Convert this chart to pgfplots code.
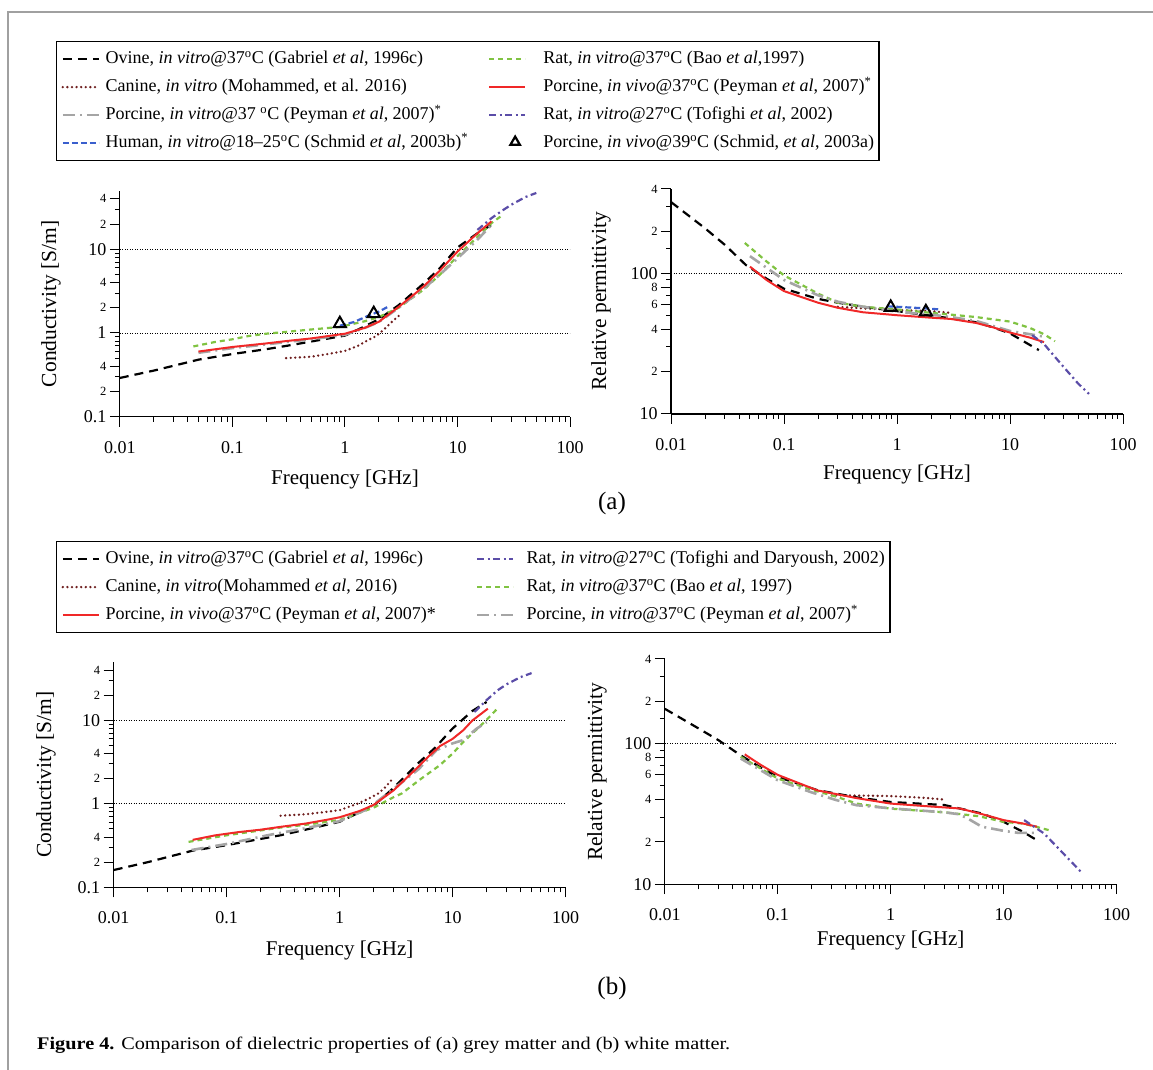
\documentclass[border=0pt]{standalone}
\usepackage{pgfplots}
\pgfplotsset{compat=1.18}
\usepackage{fontspec}
\setmainfont{Liberation Serif}
\definecolor{cRed}{RGB}{240,40,40}
\definecolor{cGreen}{RGB}{128,195,66}
\definecolor{cGrey}{RGB}{165,165,165}
\definecolor{cBlue}{RGB}{58,95,205}
\definecolor{cPurple}{RGB}{91,77,168}
\definecolor{cMaroon}{RGB}{110,30,30}
\definecolor{cFrame}{RGB}{160,160,160}
\newcommand\sm{\fontsize{12.5}{12.5}\selectfont}
\newcommand\dg{\textsuperscript{o}}
\tikzset{
 sOvine/.style={black, line width=2.2pt, dash pattern=on 9pt off 6pt},
 sCanine/.style={cMaroon, line width=2.6pt, line cap=round, dash pattern=on 0pt off 4.6pt},
 sPvitro/.style={cGrey, line width=2.6pt, dash pattern=on 12pt off 5pt on 2pt off 5pt},
 sHuman/.style={cBlue, line width=2.2pt, dash pattern=on 6pt off 3pt},
 sBao/.style={cGreen, line width=2.2pt, dash pattern=on 5pt off 4pt},
 sPvivo/.style={cRed, line width=2pt},
 sTof/.style={cPurple, line width=2.2pt, dash pattern=on 7pt off 3.5pt on 2pt off 3.5pt},
 sTri/.style={black, line width=2pt, mark=triangle, mark size=7pt, mark options={solid}},
 sGrid/.style={black, line width=0.7pt, dash pattern=on 1pt off 1.5pt},
}
\begin{document}
\begin{tikzpicture}
\useasboundingbox (0pt,0pt) rectangle (1153pt,1070pt);
\draw[cFrame, line width=1.6pt] (8pt,0pt) -- (8pt,1058pt) -- (1153pt,1058pt);

% ---------------- (a) conductivity
\begin{axis}[xmode=log, ymode=log, scale only axis,
  axis x line*=bottom, axis y line*=left,
  axis line style={line width=1.2pt},
  tick align=outside, major tick length=10pt, minor tick length=5pt,
  tick style={black, line width=1pt},
  xmin=0.01, xmax=100,
  xtick={0.01,0.1,1,10,100}, xticklabels={0.01,0.1,1,10,100},
  minor xtick={0.02,0.03,0.04,0.05,0.06,0.07,0.08,0.09,0.2,0.3,0.4,0.5,0.6,0.7,0.8,0.9,2,3,4,5,6,7,8,9,20,30,40,50,60,70,80,90},
  ticklabel style={font=\fontsize{18}{18}\selectfont},
  xticklabel style={yshift=-11pt},
  xlabel={Frequency [GHz]},
  xlabel style={font=\fontsize{21}{21}\selectfont, anchor=center, at={(axis description cs:0.5,-0.280)}},
  ylabel style={font=\fontsize{21.5}{21.5}\selectfont, anchor=center, at={(axis description cs:-0.1528,0.5)}},
  ymin=0.1, ymax=50,
  ytick={0.1,0.2,0.4,1,2,4,10,20,40},
  yticklabels={0.1,{\sm 2},{\sm 4},1,{\sm 2},{\sm 4},10,{\sm 2},{\sm 4}},
  minor ytick={0.3,0.5,0.6,0.7,0.8,0.9,3,5,6,7,8,9,30},
  ylabel={Conductivity [S/m]},
  anchor=south west, at={(119.8pt,653.3pt)}, width=450.4pt, height=226pt,
  legend image code/.code={\draw[#1] (0pt,0pt) -- (36pt,0pt);},
  legend cell align=left, legend columns=2,
  legend style={draw=black, line width=1.2pt, font=\fontsize{18}{21}\selectfont,
   inner xsep=5pt, inner ysep=9pt, row sep=11pt,
   nodes={inner sep=0pt, text height=13pt, text depth=4pt},
   /tikz/column 1/.style={column sep=5.5pt},
   /tikz/column 2/.style={column sep=20pt},
   /tikz/column 3/.style={column sep=17pt},
   at={(axis description cs:-0.1419,1.6624)}, anchor=north west}]
\addlegendimage{sOvine}\addlegendentry{Ovine, \textit{in vitro}@37\dg C (Gabriel \textit{et al}, 1996c)}
\addlegendimage{sBao}\addlegendentry{Rat, \textit{in vitro}@37\dg C (Bao \textit{et al},1997)}
\addlegendimage{sCanine}\addlegendentry{Canine, \textit{in vitro} (Mohammed, et al. 2016)}
\addlegendimage{sPvivo}\addlegendentry{Porcine, \textit{in vivo}@37\dg C (Peyman \textit{et al}, 2007)\textsuperscript{*}}
\addlegendimage{sPvitro}\addlegendentry{Porcine, \textit{in vitro}@37 \dg C (Peyman \textit{et al}, 2007)\textsuperscript{*}}
\addlegendimage{sTof}\addlegendentry{Rat, \textit{in vitro}@27\dg C (Tofighi \textit{et al}, 2002)}
\addlegendimage{sHuman}\addlegendentry{Human, \textit{in vitro}@18–25\dg C (Schmid \textit{et al}, 2003b)\textsuperscript{*}}
\addlegendimage{black, legend image code/.code={\draw[black, line width=2.2pt, mark=triangle, mark size=5.5pt] plot coordinates {(26pt,1pt)};}}\addlegendentry{Porcine, \textit{in vivo}@39\dg C (Schmid, \textit{et al}, 2003a)}
\addplot[sGrid, forget plot] coordinates {(0.01,1) (100,1)};
\addplot[sGrid, forget plot] coordinates {(0.01,10) (100,10)};
\addplot[sCanine, forget plot] coordinates {(0.3,0.5) (0.5,0.52) (0.7,0.56) (1,0.61) (1.3,0.7) (1.6,0.82) (1.9,0.92) (2.3,1.15) (2.6,1.35) (3,1.6)};
\addplot[sOvine, forget plot] coordinates {(0.01,0.29) (0.02,0.355) (0.05,0.48) (0.1,0.56) (0.2,0.64) (0.3,0.7) (0.5,0.79) (1,0.93) (1.5,1.2) (2,1.46) (3,2.15) (4,3.0) (5,3.9) (7,6.0) (10,10.5) (15,15.5) (20,19.5)};
\addplot[sBao, forget plot] coordinates {(0.045,0.69) (0.07,0.78) (0.1,0.84) (0.14,0.92) (0.2,0.98) (0.3,1.03) (0.5,1.1) (0.9,1.18) (1.5,1.38) (2,1.55) (3,2.0) (5,3.3) (7,5.0) (10,8.3) (15,14) (20,20.5) (25,25.5)};
\addplot[sPvitro, forget plot] coordinates {(0.05,0.58) (0.1,0.66) (0.2,0.73) (0.3,0.78) (0.5,0.84) (1,0.95) (1.5,1.15) (2,1.35) (3,2.0) (5,3.4) (7,5.0) (10,7.8) (15,13) (20,19.5)};
\addplot[sHuman, forget plot] coordinates {(0.9,1.22) (1.2,1.35) (1.6,1.6) (2.0,1.8) (2.4,2.05)};
\addplot[sPvivo, forget plot] coordinates {(0.05,0.6) (0.1,0.68) (0.2,0.75) (0.3,0.8) (0.5,0.86) (1,0.98) (1.5,1.15) (2,1.36) (3,2.05) (4,2.8) (5,3.6) (7,5.6) (10,9.4) (15,15.5) (20,21.5)};
\addplot[sTof, forget plot] coordinates {(15,17) (20,23.5) (25,29) (30,34) (40,42) (50,47)};
\addplot[sTri, only marks, forget plot] coordinates {(0.9,1.29) (1.8,1.7)};
\end{axis}

% ---------------- (a) permittivity
\begin{axis}[xmode=log, ymode=log, scale only axis,
  axis x line*=bottom, axis y line*=left,
  axis line style={line width=1.2pt},
  tick align=outside, major tick length=10pt, minor tick length=5pt,
  tick style={black, line width=1pt},
  xmin=0.01, xmax=100,
  xtick={0.01,0.1,1,10,100}, xticklabels={0.01,0.1,1,10,100},
  minor xtick={0.02,0.03,0.04,0.05,0.06,0.07,0.08,0.09,0.2,0.3,0.4,0.5,0.6,0.7,0.8,0.9,2,3,4,5,6,7,8,9,20,30,40,50,60,70,80,90},
  ticklabel style={font=\fontsize{18}{18}\selectfont},
  xticklabel style={yshift=-11pt},
  xlabel={Frequency [GHz]},
  xlabel style={font=\fontsize{21}{21}\selectfont, anchor=center, at={(axis description cs:0.5,-0.2667)}},
  ylabel style={font=\fontsize{21.5}{21.5}\selectfont, anchor=center, at={(axis description cs:-0.1549,0.5)}},
  ymin=10, ymax=400,
  ytick={10,20,40,60,80,100,200,400},
  yticklabels={10,{\sm 2},{\sm 4},{\sm 6},{\sm 8},100,{\sm 2},{\sm 4}},
  minor ytick={30,50,70,90,150,300},
  ylabel={Relative permittivity},
  anchor=south west, at={(671pt,656pt)}, width=452pt, height=225pt]
\addplot[sGrid] coordinates {(0.01,100) (100,100)};
\addplot[sCanine] coordinates {(0.3,58) (0.5,56.5) (1,55) (2,54) (3,52.5)};
\addplot[sOvine] coordinates {(0.01,323) (0.02,210) (0.03,160) (0.046,115) (0.07,92) (0.1,78) (0.2,66) (0.3,62) (0.5,58) (1,54) (2,50) (3,48) (5,45) (7,41.5) (10,37.5) (15,31) (18,28.5)};
\addplot[sBao] coordinates {(0.045,165) (0.07,122) (0.1,97) (0.2,72) (0.3,62) (0.5,58) (1,55.5) (2,52.5) (3,51) (5,49) (10,45.5) (15,41) (20,37) (25,33)};
\addplot[sPvitro] coordinates {(0.05,133) (0.07,110) (0.1,90) (0.2,70) (0.3,63) (0.5,58) (1,53.5) (2,51) (3,49) (5,46) (10,39) (15,37) (20,35.5)};
\addplot[sHuman] coordinates {(0.82,58.5) (1.2,57.5) (1.8,56.5) (2.4,55.5)};
\addplot[sPvivo] coordinates {(0.05,112) (0.07,90) (0.1,75) (0.2,62) (0.3,57) (0.5,53) (1,50.5) (2,48.5) (3,47.5) (5,44.5) (7,41.5) (10,38) (15,35) (20,32.5)};
\addplot[sTof] coordinates {(15.7,36.4) (20,31.5) (25,25.5) (30,21.5) (40,16.5) (50,13.9)};
\addplot[sTri, only marks] coordinates {(0.88,57.4) (1.8,53.4)};
\end{axis}

% ---------------- (b) conductivity
\begin{axis}[xmode=log, ymode=log, scale only axis,
  axis x line*=bottom, axis y line*=left,
  axis line style={line width=1.2pt},
  tick align=outside, major tick length=10pt, minor tick length=5pt,
  tick style={black, line width=1pt},
  xmin=0.01, xmax=100,
  xtick={0.01,0.1,1,10,100}, xticklabels={0.01,0.1,1,10,100},
  minor xtick={0.02,0.03,0.04,0.05,0.06,0.07,0.08,0.09,0.2,0.3,0.4,0.5,0.6,0.7,0.8,0.9,2,3,4,5,6,7,8,9,20,30,40,50,60,70,80,90},
  ticklabel style={font=\fontsize{18}{18}\selectfont},
  xticklabel style={yshift=-11pt},
  xlabel={Frequency [GHz]},
  xlabel style={font=\fontsize{21}{21}\selectfont, anchor=center, at={(axis description cs:0.5,-0.2814)}},
  ylabel style={font=\fontsize{21.5}{21.5}\selectfont, anchor=center, at={(axis description cs:-0.1498,0.5)}},
  ymin=0.1, ymax=50,
  ytick={0.1,0.2,0.4,1,2,4,10,20,40},
  yticklabels={0.1,{\sm 2},{\sm 4},1,{\sm 2},{\sm 4},10,{\sm 2},{\sm 4}},
  minor ytick={0.3,0.5,0.6,0.7,0.8,0.9,3,5,6,7,8,9,30},
  ylabel={Conductivity [S/m]},
  anchor=south west, at={(113.7pt,182.7pt)}, width=451.9pt, height=225.3pt,
  legend image code/.code={\draw[#1] (0pt,0pt) -- (36pt,0pt);},
  legend cell align=left, legend columns=2,
  legend style={draw=black, line width=1.2pt, font=\fontsize{18}{21}\selectfont,
   inner xsep=5pt, inner ysep=9pt, row sep=11pt,
   nodes={inner sep=0pt, text height=13pt, text depth=4pt},
   /tikz/column 1/.style={column sep=5.5pt},
   /tikz/column 2/.style={column sep=40pt},
   /tikz/column 3/.style={column sep=12pt},
   at={(axis description cs:-0.1279,1.5371)}, anchor=north west}]
\addlegendimage{sOvine}\addlegendentry{Ovine, \textit{in vitro}@37\dg C (Gabriel \textit{et al}, 1996c)}
\addlegendimage{sTof}\addlegendentry{Rat, \textit{in vitro}@27\dg C (Tofighi and Daryoush, 2002)}
\addlegendimage{sCanine}\addlegendentry{Canine, \textit{in vitro}(Mohammed \textit{et al}, 2016)}
\addlegendimage{sBao}\addlegendentry{Rat, \textit{in vitro}@37\dg C (Bao \textit{et al}, 1997)}
\addlegendimage{sPvivo}\addlegendentry{Porcine, \textit{in vivo}@37\dg C (Peyman \textit{et al}, 2007)*}
\addlegendimage{sPvitro}\addlegendentry{Porcine, \textit{in vitro}@37\dg C (Peyman \textit{et al}, 2007)\textsuperscript{*}}
\addplot[sGrid, forget plot] coordinates {(0.01,1) (100,1)};
\addplot[sGrid, forget plot] coordinates {(0.01,10) (100,10)};
\addplot[sCanine, forget plot] coordinates {(0.3,0.72) (0.5,0.75) (0.7,0.79) (1,0.84) (1.43,1.0) (1.8,1.15) (2.2,1.33) (2.5,1.55) (2.9,1.95)};
\addplot[sOvine, forget plot] coordinates {(0.01,0.161) (0.02,0.2) (0.05,0.275) (0.1,0.32) (0.2,0.38) (0.3,0.42) (0.5,0.49) (1,0.61) (2,0.95) (3,1.55) (5,3.1) (7,4.7) (10,8.0) (15,13) (20,16.6)};
\addplot[sBao, forget plot] coordinates {(0.046,0.35) (0.1,0.42) (0.2,0.48) (0.3,0.52) (0.5,0.56) (1,0.64) (2,0.9) (3,1.2) (3.55,1.33) (5,1.9) (7.7,2.9) (10,4.0) (12.4,5.5) (15,7.0) (19.8,10) (25.6,14.4)};
\addplot[sPvitro, forget plot] coordinates {(0.049,0.28) (0.1,0.33) (0.23,0.42) (0.5,0.51) (1,0.62) (1.75,0.86) (2.5,1.25) (3.55,1.8) (5,2.6) (7.2,4.4) (10,5.3) (12.4,5.8) (16.2,7.9) (20,9.5)};
\addplot[sPvivo, forget plot] coordinates {(0.05,0.37) (0.08,0.42) (0.13,0.46) (0.2,0.49) (0.3,0.53) (0.5,0.58) (0.8,0.65) (1,0.69) (1.5,0.82) (2,0.97) (3,1.45) (4,2.1) (5,2.8) (6,3.6) (7.7,4.9) (10,6.0) (12.4,7.6) (15,10) (20.5,13.8)};
\addplot[sTof, forget plot] coordinates {(15.6,12.6) (20,17.5) (25,22.9) (30,27) (40,33) (50,36.8)};
\end{axis}

% ---------------- (b) permittivity
\begin{axis}[xmode=log, ymode=log, scale only axis,
  axis x line*=bottom, axis y line*=left,
  axis line style={line width=1.2pt},
  tick align=outside, major tick length=10pt, minor tick length=5pt,
  tick style={black, line width=1pt},
  xmin=0.01, xmax=100,
  xtick={0.01,0.1,1,10,100}, xticklabels={0.01,0.1,1,10,100},
  minor xtick={0.02,0.03,0.04,0.05,0.06,0.07,0.08,0.09,0.2,0.3,0.4,0.5,0.6,0.7,0.8,0.9,2,3,4,5,6,7,8,9,20,30,40,50,60,70,80,90},
  ticklabel style={font=\fontsize{18}{18}\selectfont},
  xticklabel style={yshift=-11pt},
  xlabel={Frequency [GHz]},
  xlabel style={font=\fontsize{21}{21}\selectfont, anchor=center, at={(axis description cs:0.5,-0.2472)}},
  ylabel style={font=\fontsize{21.5}{21.5}\selectfont, anchor=center, at={(axis description cs:-0.150,0.5)}},
  ymin=10, ymax=400,
  ytick={10,20,40,60,80,100,200,400},
  yticklabels={10,{\sm 2},{\sm 4},{\sm 6},{\sm 8},100,{\sm 2},{\sm 4}},
  minor ytick={30,50,70,90,150,300},
  ylabel={Relative permittivity},
  anchor=south west, at={(664.8pt,185.7pt)}, width=451.7pt, height=225.3pt]
\addplot[sGrid] coordinates {(0.01,100) (100,100)};
\addplot[sCanine] coordinates {(0.3,43) (0.5,42.8) (1,42.4) (2,41.2) (3,40)};
\addplot[sOvine] coordinates {(0.01,177) (0.02,128) (0.03,105.6) (0.047,82.6) (0.07,68) (0.1,58) (0.225,46.7) (0.5,41.5) (1,38.5) (3,36.6) (6.4,31.9) (10,27.8) (15,23.5) (19.7,20.6)};
\addplot[sBao] coordinates {(0.047,80.7) (0.1,56.5) (0.2,47) (0.33,42) (0.5,37.5) (1,34.5) (3,32.5) (6,30.5) (10,27.8) (15,27) (20,25.5) (26.5,24)};
\addplot[sPvitro] coordinates {(0.047,78.4) (0.1,54.9) (0.2,45) (0.33,39.7) (0.5,36.5) (1,34.7) (3,32.5) (4,31.5) (4.8,29.4) (6.4,25.7) (10,24) (13.6,23.2) (19.7,23.2)};
\addplot[sPvivo] coordinates {(0.051,84) (0.07,71) (0.1,60) (0.225,46.5) (0.5,41) (1,37.5) (2,36) (4.1,34.6) (7,31) (10,28.6) (15,27) (19.7,25.7)};
\addplot[sTof] coordinates {(15.2,28.6) (22.8,23) (30,18.3) (40,14.4) (48.2,12.3)};
\end{axis}

\node[font=\fontsize{25}{25}\selectfont] at (612pt,567pt) {(a)};
\node[font=\fontsize{25}{25}\selectfont] at (612pt,82pt) {(b)};
\node[anchor=west, inner sep=0pt] at (37pt,25pt) {\resizebox{693pt}{12.5pt}{\fontsize{17}{17}\selectfont\textbf{Figure 4.} Comparison of dielectric properties of (a) grey matter and (b) white matter.}};
\end{tikzpicture}
\end{document}
